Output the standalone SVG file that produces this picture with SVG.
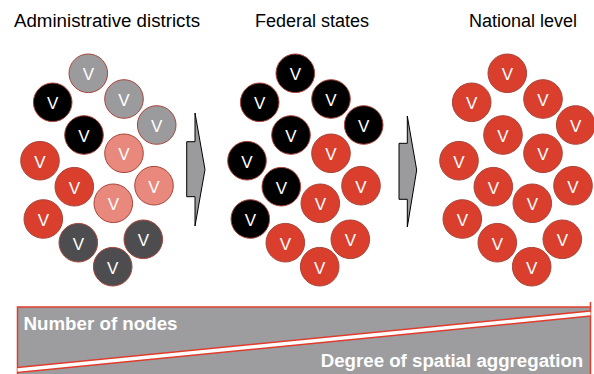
<svg xmlns="http://www.w3.org/2000/svg" width="594" height="374" viewBox="0 0 594 374">
  <style>
    .title { font-family: "Liberation Sans", Arial, sans-serif; font-size: 18px; fill: #000; text-anchor: middle; }
    .node circle { stroke: #A8453A; stroke-width: 1; }
    .node text { font-family: "Liberation Sans", Arial, sans-serif; font-size: 17px; fill: #FFFFFF; text-anchor: middle; }
    .gray circle { fill: #9B9B9D; }
    .black circle { fill: #000000; }
    .pink circle { fill: #E9887C; }
    .red circle { fill: #DA3F2D; }
    .dark circle { fill: #4D4D4F; }
    .arrow { fill: #9B9B9D; stroke: #000; stroke-width: 1; stroke-linejoin: miter; }
    .barlabel { font-family: "Liberation Sans", Arial, sans-serif; font-size: 18.7px; font-weight: bold; fill: #FFFFFF; }
  </style>

  <!-- column headings -->
  <text class="title" x="107" y="27" textLength="186" lengthAdjust="spacingAndGlyphs">Administrative districts</text>
  <text class="title" x="312" y="27">Federal states</text>
  <text class="title" x="523" y="27">National level</text>

  <!-- administrative districts -->
  <g id="districts">
    <g id="d1" class="node gray"><circle cx="88.3" cy="73.3" r="19.3"/><text x="88.3" y="80.3">V</text></g>
    <g id="d2" class="node gray"><circle cx="124" cy="99" r="19.3"/><text x="124" y="106">V</text></g>
    <g id="d3" class="node gray"><circle cx="156.7" cy="125" r="19.3"/><text x="156.7" y="132">V</text></g>
    <g id="d4" class="node black"><circle cx="52.7" cy="102.3" r="19.3"/><text x="52.7" y="109.3">V</text></g>
    <g id="d5" class="node black"><circle cx="84" cy="135" r="19.3"/><text x="84" y="142">V</text></g>
    <g id="d6" class="node pink"><circle cx="124" cy="153.3" r="19.3"/><text x="124" y="160.3">V</text></g>
    <g id="d7" class="node pink"><circle cx="154" cy="185.7" r="19.3"/><text x="154" y="192.7">V</text></g>
    <g id="d8" class="node pink"><circle cx="113.3" cy="203.3" r="19.3"/><text x="113.3" y="210.3">V</text></g>
    <g id="d9" class="node red"><circle cx="40" cy="160.7" r="19.3"/><text x="40" y="167.7">V</text></g>
    <g id="d10" class="node red"><circle cx="74.3" cy="186.7" r="19.3"/><text x="74.3" y="193.7">V</text></g>
    <g id="d11" class="node red"><circle cx="43.3" cy="219" r="19.3"/><text x="43.3" y="226">V</text></g>
    <g id="d12" class="node dark"><circle cx="78.3" cy="242.7" r="19.3"/><text x="78.3" y="249.7">V</text></g>
    <g id="d13" class="node dark"><circle cx="143.3" cy="239.3" r="19.3"/><text x="143.3" y="246.3">V</text></g>
    <g id="d14" class="node dark"><circle cx="112.7" cy="266.7" r="19.3"/><text x="112.7" y="273.7">V</text></g>
  </g>

  <!-- federal states -->
  <g id="states" transform="translate(207,0)">
    <g id="s1" class="node black"><circle cx="88.3" cy="73.3" r="19.3"/><text x="88.3" y="80.3">V</text></g>
    <g id="s2" class="node black"><circle cx="124" cy="99" r="19.3"/><text x="124" y="106">V</text></g>
    <g id="s3" class="node black"><circle cx="156.7" cy="125" r="19.3"/><text x="156.7" y="132">V</text></g>
    <g id="s4" class="node black"><circle cx="52.7" cy="102.3" r="19.3"/><text x="52.7" y="109.3">V</text></g>
    <g id="s5" class="node black"><circle cx="84" cy="135" r="19.3"/><text x="84" y="142">V</text></g>
    <g id="s6" class="node red"><circle cx="124" cy="153.3" r="19.3"/><text x="124" y="160.3">V</text></g>
    <g id="s7" class="node red"><circle cx="154" cy="185.7" r="19.3"/><text x="154" y="192.7">V</text></g>
    <g id="s8" class="node red"><circle cx="113.3" cy="203.3" r="19.3"/><text x="113.3" y="210.3">V</text></g>
    <g id="s9" class="node black"><circle cx="40" cy="160.7" r="19.3"/><text x="40" y="167.7">V</text></g>
    <g id="s10" class="node black"><circle cx="74.3" cy="186.7" r="19.3"/><text x="74.3" y="193.7">V</text></g>
    <g id="s11" class="node black"><circle cx="43.3" cy="219" r="19.3"/><text x="43.3" y="226">V</text></g>
    <g id="s12" class="node red"><circle cx="78.3" cy="242.7" r="19.3"/><text x="78.3" y="249.7">V</text></g>
    <g id="s13" class="node red"><circle cx="143.3" cy="239.3" r="19.3"/><text x="143.3" y="246.3">V</text></g>
    <g id="s14" class="node red"><circle cx="112.7" cy="266.7" r="19.3"/><text x="112.7" y="273.7">V</text></g>
  </g>

  <!-- national level -->
  <g id="national" transform="translate(419,0)">
    <g id="n1" class="node red"><circle cx="88.3" cy="73.3" r="19.3"/><text x="88.3" y="80.3">V</text></g>
    <g id="n2" class="node red"><circle cx="124" cy="99" r="19.3"/><text x="124" y="106">V</text></g>
    <g id="n3" class="node red"><circle cx="156.7" cy="125" r="19.3"/><text x="156.7" y="132">V</text></g>
    <g id="n4" class="node red"><circle cx="52.7" cy="102.3" r="19.3"/><text x="52.7" y="109.3">V</text></g>
    <g id="n5" class="node red"><circle cx="84" cy="135" r="19.3"/><text x="84" y="142">V</text></g>
    <g id="n6" class="node red"><circle cx="124" cy="153.3" r="19.3"/><text x="124" y="160.3">V</text></g>
    <g id="n7" class="node red"><circle cx="154" cy="185.7" r="19.3"/><text x="154" y="192.7">V</text></g>
    <g id="n8" class="node red"><circle cx="113.3" cy="203.3" r="19.3"/><text x="113.3" y="210.3">V</text></g>
    <g id="n9" class="node red"><circle cx="40" cy="160.7" r="19.3"/><text x="40" y="167.7">V</text></g>
    <g id="n10" class="node red"><circle cx="74.3" cy="186.7" r="19.3"/><text x="74.3" y="193.7">V</text></g>
    <g id="n11" class="node red"><circle cx="43.3" cy="219" r="19.3"/><text x="43.3" y="226">V</text></g>
    <g id="n12" class="node red"><circle cx="78.3" cy="242.7" r="19.3"/><text x="78.3" y="249.7">V</text></g>
    <g id="n13" class="node red"><circle cx="143.3" cy="239.3" r="19.3"/><text x="143.3" y="246.3">V</text></g>
    <g id="n14" class="node red"><circle cx="112.7" cy="266.7" r="19.3"/><text x="112.7" y="273.7">V</text></g>
  </g>

  <!-- block arrows between the levels -->
  <g id="connectors">
    <polygon class="arrow" points="186.7,141.7 195,141.7 195,113 205,169.5 195,226 195,196.7 186.7,196.7"/>
    <polygon class="arrow" points="399,143.3 407.3,143.3 407.3,116 416.7,170 407.3,227 407.3,199.3 399,199.3"/>
  </g>

  <!-- scale bar: nodes vs. spatial aggregation -->
  <g id="scale-bar">
    <rect x="17.5" y="307" width="573" height="72" fill="#9D9D9F" stroke="#E03C2E" stroke-width="1.5"/>
    <line x1="590.5" y1="302" x2="590.5" y2="307" stroke="#E03C2E" stroke-width="1.5"/>
    <line x1="17.5" y1="370" x2="590.5" y2="313.5" stroke="#E03C2E" stroke-width="6.5"/>
    <line x1="17.5" y1="370" x2="590.5" y2="313.5" stroke="#FFFFFF" stroke-width="3.5"/>
    <text class="barlabel" x="23.5" y="329.5" textLength="154" lengthAdjust="spacingAndGlyphs">Number of nodes</text>
    <text class="barlabel" x="320.7" y="366.7" textLength="262.6" lengthAdjust="spacingAndGlyphs">Degree of spatial aggregation</text>
  </g>
</svg>
